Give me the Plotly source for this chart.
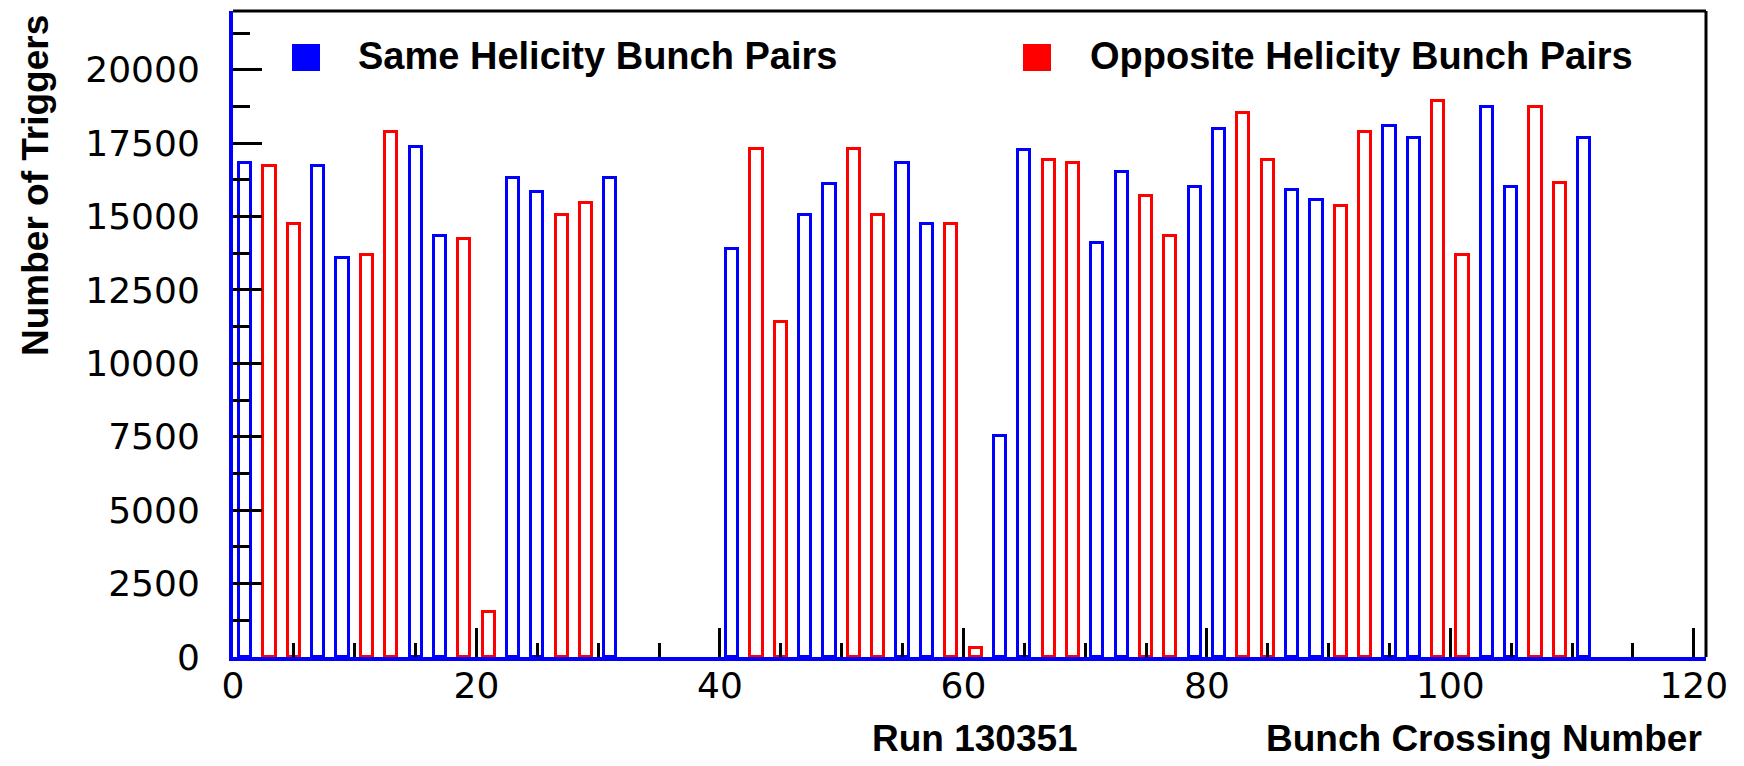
import plotly.graph_objects as go

# ---- data ----
same_bunch = [1, 7, 9, 15, 17, 23, 25, 31, 41, 47, 49, 55, 57, 63, 65, 71, 73,
              79, 81, 87, 89, 95, 97, 103, 105, 111]
same_counts = [16820, 16720, 13600, 17380, 14340, 16320, 15820, 16320, 13900,
               15050, 16110, 16830, 14740, 7540, 17280, 14100, 16510,
               16000, 17970, 15900, 15560, 18070, 17660, 18730, 16000, 17660]

opp_bunch = [3, 5, 11, 13, 19, 21, 27, 29, 43, 45, 51, 53, 59, 61, 67, 69, 75,
             77, 83, 85, 91, 93, 99, 101, 107, 109]
opp_counts = [16720, 14740, 13690, 17880, 14230, 1540, 15050, 15460, 17290,
              11420, 17290, 15050, 14740, 310, 16920, 16830, 15690,
              14350, 18530, 16920, 15350, 17870, 18940, 13690, 18730, 16130]

y_tickvals = [0, 2500, 5000, 7500, 10000, 12500, 15000, 17500, 20000]
y_ticktext = ["0", "2500", "5000", "7500", "10000", "12500", "15000", "17500", "20000"]
x_tickvals = [0, 20, 40, 60, 80, 100, 120]
x_ticktext = ["0", "20", "40", "60", "80", "100", "120"]

legend_labels = ["Same Helicity Bunch Pairs", "Opposite Helicity Bunch Pairs"]
x_title = "Bunch Crossing Number"
y_title = "Number of Triggers"
run_label = "Run 130351"

# ---- layout geometry (pixels) ----
W, H = 1744, 766
L, R, T, B = 233, 1706, 11, 657
DW, DH = R - L, B - T


def px(x):
    return (x - L) / DW


def py(y):
    return (B - y) / DH


BLUE = "#0000ff"
RED = "#ff0000"
TXT = "Liberation Sans, Arial, sans-serif"
NUM = "DejaVu Sans, sans-serif"

fig = go.Figure()
fig.add_trace(go.Bar(x=same_bunch, y=same_counts, width=1,
                     marker=dict(color="rgba(255,255,255,0)",
                                 line=dict(color=BLUE, width=3)),
                     name=legend_labels[0], showlegend=False))
fig.add_trace(go.Bar(x=opp_bunch, y=opp_counts, width=1,
                     marker=dict(color="rgba(255,255,255,0)",
                                 line=dict(color=RED, width=3)),
                     name=legend_labels[1], showlegend=False))

shapes = [
    # top and right frame (black)
    dict(type="line", xref="paper", yref="paper", x0=0, x1=1, y0=1, y1=1,
         line=dict(color="black", width=3), layer="above"),
    dict(type="line", xref="paper", yref="paper", x0=1, x1=1, y0=0, y1=1,
         line=dict(color="black", width=3), layer="above"),
    # legend swatches
    dict(type="rect", xref="paper", yref="paper",
         x0=px(292), x1=px(320), y0=py(71), y1=py(44),
         fillcolor=BLUE, line=dict(width=0)),
    dict(type="rect", xref="paper", yref="paper",
         x0=px(1023), x1=px(1051), y0=py(71), y1=py(44),
         fillcolor=RED, line=dict(width=0)),
]

tfont = dict(family=TXT, size=37, color="black", weight="bold")
lfont = dict(family=TXT, size=38, color="black", weight="bold")
annotations = [
    dict(text=legend_labels[0], x=px(356), y=py(56), xref="paper", yref="paper",
         xanchor="left", yanchor="middle", showarrow=False, font=lfont),
    dict(text=legend_labels[1], x=px(1088), y=py(56), xref="paper", yref="paper",
         xanchor="left", yanchor="middle", showarrow=False, font=lfont),
    dict(text=run_label, x=px(975), y=py(738), xref="paper", yref="paper",
         xanchor="center", yanchor="middle", showarrow=False, font=tfont),
    dict(text=x_title, x=px(1704), y=py(738), xref="paper", yref="paper",
         xanchor="right", yanchor="middle", showarrow=False, font=tfont),
    dict(text=y_title, x=px(35), y=py(186), xref="paper", yref="paper",
         xanchor="center", yanchor="middle", showarrow=False, font=tfont,
         textangle=-90),
]

fig.update_layout(
    width=W, height=H,
    margin=dict(l=L, r=W - R, t=T, b=H - B, pad=0),
    paper_bgcolor="white", plot_bgcolor="white",
    barmode="overlay", bargap=0,
    shapes=shapes, annotations=annotations,
    showlegend=False,
)
fig.update_xaxes(range=[0, 121], tickvals=x_tickvals, ticktext=x_ticktext,
                 ticks="inside", ticklen=29, tickwidth=3, tickcolor="black",
                 minor=dict(ticks="inside", ticklen=14, tickwidth=3,
                            tickcolor="black", dtick=5, tick0=0),
                 showline=True, linecolor=BLUE, linewidth=4,
                 showgrid=False, zeroline=False,
                 tickfont=dict(family=NUM, size=36, color="black"),
                 ticklabelstandoff=-6)
fig.update_yaxes(range=[0, 22000], tickvals=y_tickvals, ticktext=y_ticktext,
                 ticks="inside", ticklen=29, tickwidth=3, tickcolor="black",
                 minor=dict(ticks="inside", ticklen=17, tickwidth=3,
                            tickcolor="black", dtick=1250, tick0=0),
                 showline=True, linecolor=BLUE, linewidth=4,
                 showgrid=False, zeroline=False,
                 tickfont=dict(family=NUM, size=36, color="black"),
                 ticklabelstandoff=22)

fig.write_html("out.html")
